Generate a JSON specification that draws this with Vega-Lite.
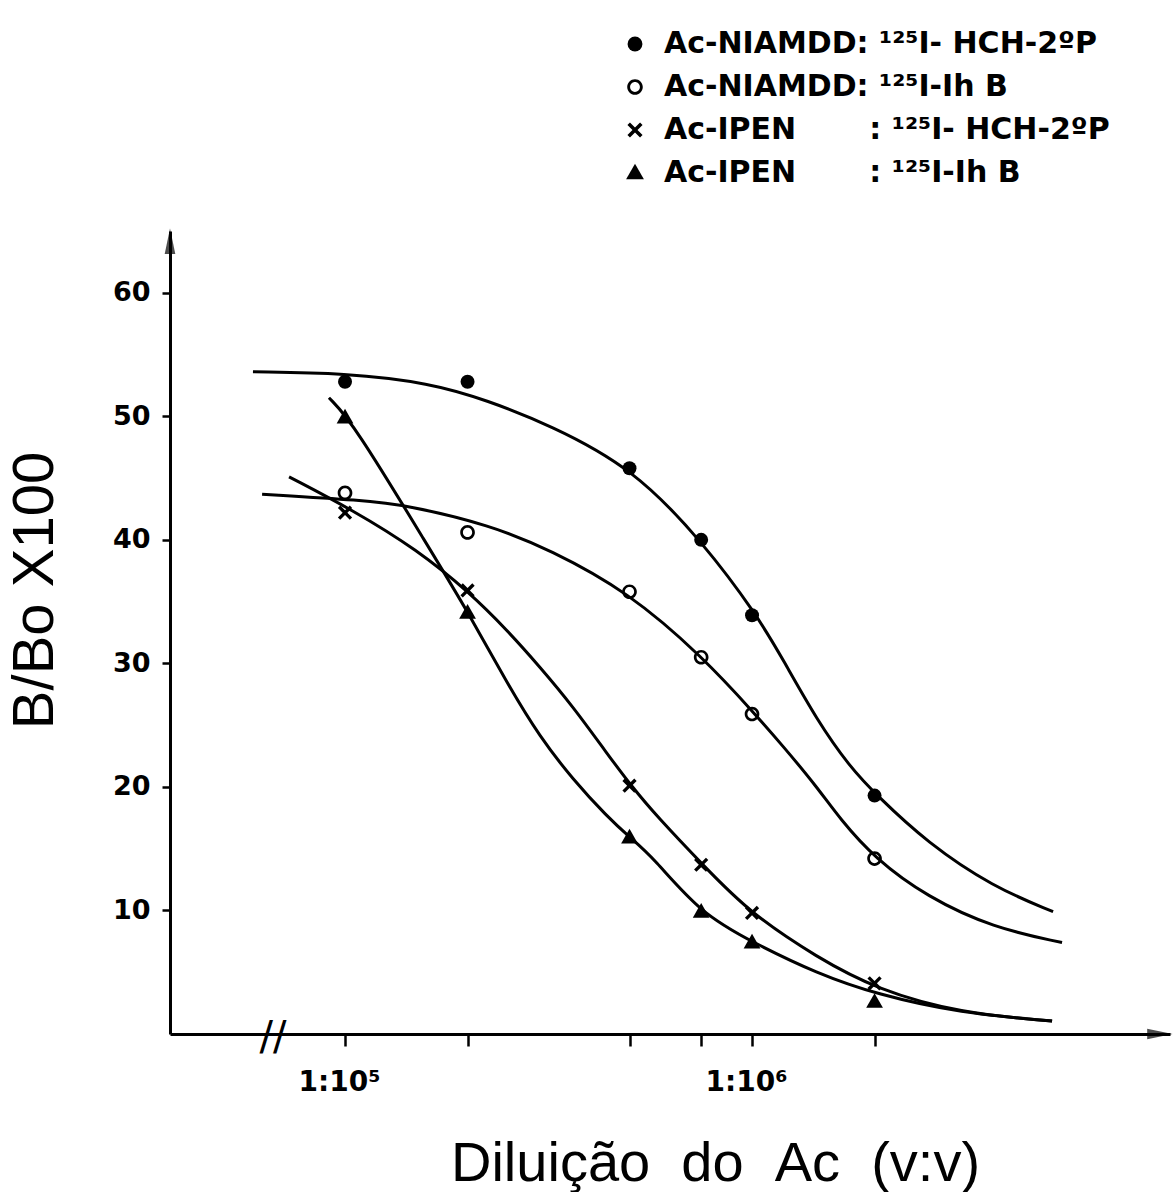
{
  "$schema": "https://vega.github.io/schema/vega-lite/v6.json",
  "width": 1000,
  "height": 803,
  "autosize": {"type": "none"},
  "padding": {"left": 170, "top": 231, "right": 3, "bottom": 158},
  "background": "white",
  "config": {
    "view": {"stroke": null}
  },
  "datasets": {
    "points": [
      {"series": "A", "dilution": 100000, "value": 52.8},
      {"series": "A", "dilution": 200000, "value": 52.8},
      {"series": "A", "dilution": 500000, "value": 45.8},
      {"series": "A", "dilution": 750000, "value": 40.0},
      {"series": "A", "dilution": 1000000, "value": 33.9},
      {"series": "A", "dilution": 2000000, "value": 19.3},
      {"series": "B", "dilution": 100000, "value": 43.8},
      {"series": "B", "dilution": 200000, "value": 40.6},
      {"series": "B", "dilution": 500000, "value": 35.8},
      {"series": "B", "dilution": 750000, "value": 30.5},
      {"series": "B", "dilution": 1000000, "value": 25.9},
      {"series": "B", "dilution": 2000000, "value": 14.2},
      {"series": "C", "dilution": 100000, "value": 42.2},
      {"series": "C", "dilution": 200000, "value": 35.9},
      {"series": "C", "dilution": 500000, "value": 20.1},
      {"series": "C", "dilution": 750000, "value": 13.7},
      {"series": "C", "dilution": 1000000, "value": 9.8},
      {"series": "C", "dilution": 2000000, "value": 4.1},
      {"series": "D", "dilution": 100000, "value": 49.9},
      {"series": "D", "dilution": 200000, "value": 34.1},
      {"series": "D", "dilution": 500000, "value": 15.9},
      {"series": "D", "dilution": 750000, "value": 9.9},
      {"series": "D", "dilution": 1000000, "value": 7.4},
      {"series": "D", "dilution": 2000000, "value": 2.6}
    ],
    "curves": [
      {"series": "A", "dilution": 59400, "value": 53.6},
      {"series": "A", "dilution": 100000, "value": 53.5},
      {"series": "A", "dilution": 161800, "value": 52.7},
      {"series": "A", "dilution": 223300, "value": 51.3},
      {"series": "A", "dilution": 318900, "value": 49.3},
      {"series": "A", "dilution": 510100, "value": 45.8},
      {"series": "A", "dilution": 757900, "value": 39.8},
      {"series": "A", "dilution": 1028700, "value": 33.9},
      {"series": "A", "dilution": 1192000, "value": 30.3},
      {"series": "A", "dilution": 1444000, "value": 25.4},
      {"series": "A", "dilution": 1741000, "value": 21.6},
      {"series": "A", "dilution": 2028000, "value": 19.3},
      {"series": "A", "dilution": 2691000, "value": 15.5},
      {"series": "A", "dilution": 3910000, "value": 11.9},
      {"series": "A", "dilution": 5492000, "value": 9.9},
      {"series": "B", "dilution": 62550, "value": 43.7},
      {"series": "B", "dilution": 110700, "value": 43.2},
      {"series": "B", "dilution": 142000, "value": 42.8},
      {"series": "B", "dilution": 227100, "value": 41.2},
      {"series": "B", "dilution": 318900, "value": 39.2},
      {"series": "B", "dilution": 495900, "value": 35.8},
      {"series": "B", "dilution": 757900, "value": 30.5},
      {"series": "B", "dilution": 1017100, "value": 25.9},
      {"series": "B", "dilution": 1192000, "value": 23.3},
      {"series": "B", "dilution": 1444000, "value": 20.0},
      {"series": "B", "dilution": 1645000, "value": 17.4},
      {"series": "B", "dilution": 2005000, "value": 14.2},
      {"series": "B", "dilution": 2691000, "value": 11.1},
      {"series": "B", "dilution": 3910000, "value": 8.6},
      {"series": "B", "dilution": 5777000, "value": 7.4},
      {"series": "C", "dilution": 72860, "value": 45.1},
      {"series": "C", "dilution": 104600, "value": 42.4},
      {"series": "C", "dilution": 150300, "value": 39.2},
      {"series": "C", "dilution": 202800, "value": 35.7},
      {"series": "C", "dilution": 250000, "value": 32.7},
      {"series": "C", "dilution": 301400, "value": 29.7},
      {"series": "C", "dilution": 363300, "value": 26.5},
      {"series": "C", "dilution": 440300, "value": 22.7},
      {"series": "C", "dilution": 507200, "value": 20.0},
      {"series": "C", "dilution": 584300, "value": 17.6},
      {"series": "C", "dilution": 766500, "value": 13.5},
      {"series": "C", "dilution": 988800, "value": 9.8},
      {"series": "C", "dilution": 1444000, "value": 6.2},
      {"series": "C", "dilution": 2028000, "value": 3.6},
      {"series": "C", "dilution": 3244000, "value": 1.7},
      {"series": "C", "dilution": 5460000, "value": 1.05},
      {"series": "D", "dilution": 91300, "value": 51.5},
      {"series": "D", "dilution": 104600, "value": 49.5},
      {"series": "D", "dilution": 161800, "value": 39.2},
      {"series": "D", "dilution": 199400, "value": 34.3},
      {"series": "D", "dilution": 250000, "value": 28.4},
      {"series": "D", "dilution": 301400, "value": 24.0},
      {"series": "D", "dilution": 363300, "value": 20.6},
      {"series": "D", "dilution": 440300, "value": 17.6},
      {"series": "D", "dilution": 501500, "value": 15.9},
      {"series": "D", "dilution": 571300, "value": 14.3},
      {"series": "D", "dilution": 745100, "value": 9.8},
      {"series": "D", "dilution": 1005800, "value": 7.4},
      {"series": "D", "dilution": 1444000, "value": 4.9},
      {"series": "D", "dilution": 2028000, "value": 3.2},
      {"series": "D", "dilution": 3244000, "value": 1.7},
      {"series": "D", "dilution": 5460000, "value": 1.05}
    ]
  },
  "layer": [
    {
      "data": {"name": "curves"},
      "mark": {"type": "line", "color": "black", "strokeWidth": 3, "interpolate": "basis"},
      "encoding": {
        "x": {
          "field": "dilution", "type": "quantitative",
          "scale": {"type": "log", "domain": [37150, 10640000], "nice": false},
          "axis": {
            "values": [100000, 200000, 500000, 750000, 1000000, 2000000],
            "labelExpr": "datum.value == 100000 ? '1:10⁵' : (datum.value == 1000000 ? '1:10⁶' : '')",
            "labelFont": "DejaVu Sans", "labelFontWeight": "bold", "labelFontSize": 28,
            "labelColor": "black", "labelPadding": 22, "labelOffset": -6, "labelFlush": false, "labelOverlap": false,
            "tickSize": 12, "tickWidth": 2.5, "tickColor": "black",
            "domainColor": "black", "domainWidth": 3, "grid": false,
            "title": "Diluição\u00a0\u00a0do\u00a0\u00a0Ac\u00a0\u00a0(v:v)",
            "titleFont": "Liberation Sans", "titleFontWeight": "normal", "titleFontSize": 56,
            "titleColor": "black", "titleX": 545, "titleY": 146, "titleBaseline": "alphabetic", "titleAnchor": "middle", "titleAlign": "center"
          }
        },
        "y": {
          "field": "value", "type": "quantitative",
          "scale": {"domain": [0, 65], "nice": false},
          "axis": {
            "values": [10, 20, 30, 40, 50, 60],
            "labelFont": "DejaVu Sans", "labelFontWeight": "bold", "labelFontSize": 27,
            "labelColor": "black", "labelPadding": 12,
            "tickSize": 8, "tickWidth": 2.5, "tickColor": "black",
            "domainColor": "black", "domainWidth": 3, "grid": false,
            "title": "B/Bo X100",
            "titleFont": "Liberation Sans", "titleFontWeight": "normal", "titleFontSize": 58,
            "titleColor": "black", "titleX": -118, "titleY": 359, "titleAngle": -90,
            "titleBaseline": "alphabetic", "titleAlign": "center"
          }
        },
        "detail": {"field": "series"}
      }
    },
    {
      "data": {"name": "points"},
      "mark": {"type": "point", "filled": true, "color": "black", "size": 195, "opacity": 1},
      "encoding": {
        "x": {"field": "dilution", "type": "quantitative"},
        "y": {"field": "value", "type": "quantitative"},
        "shape": {
          "field": "series", "type": "nominal",
          "scale": {
            "domain": ["A", "B", "C", "D"],
            "range": [
              "circle",
              "M-1.05,0A1.05,1.05 0 1,0 1.05,0A1.05,1.05 0 1,0 -1.05,0ZM-0.66,0A0.66,0.66 0 1,1 0.66,0A0.66,0.66 0 1,1 -0.66,0Z",
              "M0.68,-1.02L1.02,-0.68L0.34,0L1.02,0.68L0.68,1.02L0,0.34L-0.68,1.02L-1.02,0.68L-0.34,0L-1.02,-0.68L-0.68,-1.02L0,-0.34Z",
              "M0,-1.25L1.2,0.85L-1.2,0.85Z"
            ]
          },
          "legend": {
            "title": null, "orient": "none", "legendX": 450, "legendY": -202,
            "labelExpr": "datum.value == 'A' ? 'Ac-NIAMDD: ¹²⁵I- HCH-2ºP' : datum.value == 'B' ? 'Ac-NIAMDD: ¹²⁵I-Ih B' : datum.value == 'C' ? 'Ac-IPEN\u00a0\u00a0\u00a0\u00a0\u00a0\u00a0\u00a0: ¹²⁵I- HCH-2ºP' : 'Ac-IPEN\u00a0\u00a0\u00a0\u00a0\u00a0\u00a0\u00a0: ¹²⁵I-Ih B'",
            "labelFont": "DejaVu Sans", "labelFontWeight": "bold", "labelFontSize": 30, "labelColor": "black",
            "labelLimit": 700, "symbolSize": 220, "rowPadding": 13, "labelOffset": 14,
            "symbolFillColor": "black", "symbolStrokeWidth": 0
          }
        }
      }
    },
    {
      "data": {"values": [{}]},
      "mark": {"type": "point", "shape": "M0,0L-0.5,2.4L0.5,2.4Z", "filled": true, "color": "black", "size": 450},
      "encoding": {"x": {"datum": 37150, "type": "quantitative"}, "y": {"datum": 65.2, "type": "quantitative"}}
    },
    {
      "data": {"values": [{}]},
      "mark": {"type": "point", "shape": "M0,0L-2.4,-0.5L-2.4,0.5Z", "filled": true, "color": "black", "size": 450},
      "encoding": {"x": {"datum": 10800000, "type": "quantitative"}, "y": {"datum": 0, "type": "quantitative"}}
    },
    {
      "data": {"values": [{}]},
      "mark": {"type": "text", "text": "//", "font": "DejaVu Sans", "fontSize": 40, "fontWeight": "normal", "color": "black", "align": "center", "baseline": "middle"},
      "encoding": {"x": {"datum": 66500, "type": "quantitative"}, "y": {"datum": -0.3, "type": "quantitative"}}
    }
  ]
}
